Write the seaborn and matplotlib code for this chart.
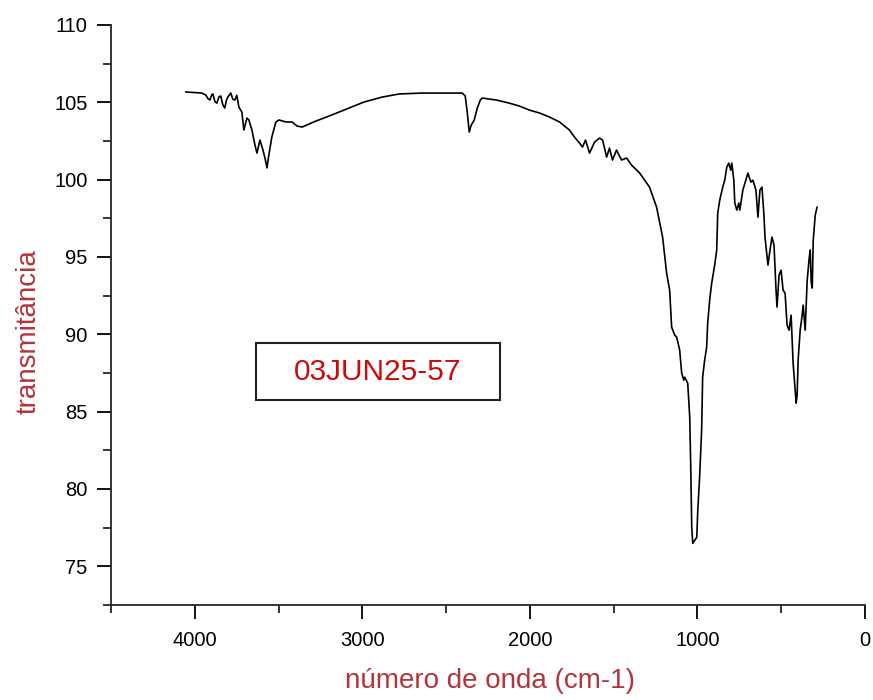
import matplotlib
matplotlib.use("Agg")
import matplotlib.pyplot as plt
import seaborn as sns
import pandas as pd
from matplotlib.ticker import MultipleLocator
from matplotlib.patches import Rectangle

wavenumber = [4054, 3958, 3934, 3922, 3910, 3898, 3892, 3880, 3868, 3856, 3845, 3833, 3821, 3812,
              3803, 3785, 3773, 3761, 3749, 3737, 3719, 3707,
              3689, 3677, 3659, 3641, 3629, 3611, 3593, 3581, 3569, 3558, 3540, 3516, 3498, 3456,
              3420, 3390, 3360, 3318, 3277, 3199, 3079, 2990, 2882, 2780, 2643, 2511, 2404, 2386,
              2374, 2362, 2350, 2332, 2314, 2296, 2284, 2242, 2200, 2123, 2063, 2003, 1943, 1883,
              1823, 1764, 1734, 1704, 1686, 1668, 1644, 1614, 1584, 1566, 1542, 1525, 1507, 1483,
              1453, 1423, 1393, 1345, 1315, 1286, 1244, 1226, 1208, 1184, 1166, 1154, 1136, 1124,
              1106, 1094, 1082, 1076, 1058, 1046, 1040, 1034, 1028, 1016, 1004, 998, 987, 975,
              969, 957, 945, 939, 927, 915, 897, 885, 879, 867, 849, 837, 825, 813, 801, 795,
              783, 777, 765, 753, 747, 729, 711, 699, 681, 669, 651, 639, 627, 615, 603, 597,
              579, 567, 555, 543, 531, 525, 513, 501, 489, 477, 465, 453, 441, 429, 417, 411,
              405, 399, 387, 375, 369, 357, 345, 333, 327, 321, 315, 309, 297, 286]
transmittance = [105.67, 105.60, 105.47, 105.25, 105.15, 105.50, 105.54, 105.05, 104.95, 105.35,
                 105.41, 104.85, 104.63, 105.10, 105.34, 105.60, 105.20, 105.15, 105.45, 104.70,
                 104.37, 103.21, 103.98, 103.86, 103.21, 102.24, 101.72, 102.56,
                 101.91, 101.40, 100.76, 101.59, 102.76, 103.73, 103.86, 103.73, 103.73, 103.47,
                 103.40, 103.60, 103.79, 104.11, 104.63, 105.02, 105.34, 105.54, 105.60, 105.60,
                 105.60, 105.41, 104.37, 103.08, 103.53, 103.86, 104.63, 105.15, 105.28, 105.21,
                 105.15, 104.95, 104.76, 104.50, 104.31, 104.05, 103.73, 103.21, 102.76, 102.37,
                 102.11, 102.56, 101.72, 102.43, 102.69, 102.56, 101.46, 102.04, 101.27, 101.91,
                 101.27, 101.40, 100.94, 100.43, 99.97, 99.52, 98.23, 97.26, 96.29, 93.96,
                 92.86, 90.47, 89.95, 89.82, 88.98, 87.49, 87.04, 87.23, 86.84, 84.64,
                 81.41, 77.53, 76.49, 76.69, 76.88, 78.63, 80.76, 83.80, 87.23, 88.33,
                 89.17, 90.72, 92.21, 93.31, 94.48, 95.45, 97.84, 98.68, 99.52, 99.97,
                 100.81, 101.07, 100.62, 101.07, 99.97, 98.49, 98.03, 98.49, 98.03, 99.33,
                 99.97, 100.43, 99.84, 99.97, 99.33, 97.58, 99.33, 99.52, 97.71, 96.29,
                 94.48, 95.45, 96.29, 95.77, 92.86, 91.76, 93.83, 94.15, 92.86, 92.66,
                 90.59, 90.27, 91.24, 88.14, 86.39, 85.55, 86.07, 88.33, 90.27, 91.24,
                 91.89, 90.27, 93.50, 94.93, 95.45, 93.38, 92.99, 96.09, 97.71, 98.23]

sample_label = "03JUN25-57"
x_title = "número de onda (cm-1)"
y_title = "transmitância"

df = pd.DataFrame({"wn": wavenumber, "T": transmittance})

sns.set_style("ticks")
plt.rcParams["font.family"] = ["Liberation Sans", "DejaVu Sans"]

fig = plt.figure(figsize=(8.73, 7.0), dpi=100)
ax = fig.add_axes([111/873, 1-605/700, (865-111)/873, (605-25)/700])

sns.lineplot(data=df, x="wn", y="T", sort=False, color="black", linewidth=1.2, ax=ax,
             estimator=None)

ax.set_xlim(4500, 0)
ax.set_ylim(72.5, 110)
ax.xaxis.set_major_locator(MultipleLocator(1000))
ax.xaxis.set_minor_locator(MultipleLocator(500))
ax.yaxis.set_major_locator(MultipleLocator(5))
ax.yaxis.set_minor_locator(MultipleLocator(2.5))

for s in ["top", "right"]:
    ax.spines[s].set_visible(False)
for s in ["left", "bottom"]:
    ax.spines[s].set_linewidth(1.3)

ax.tick_params(which="major", direction="out", length=10, width=1.3, labelsize=14.5,
               colors="black")
ax.tick_params(which="minor", direction="out", length=6, width=1.3)
ax.tick_params(axis="y", pad=7)
ax.tick_params(axis="x", pad=9)

label_color = "#b5333a"
ax.set_xlabel(x_title, fontsize=20, color=label_color)
ax.set_ylabel(y_title, fontsize=20, color=label_color)
ax.xaxis.label.set_va("center")
ax.yaxis.label.set_va("center")
ax.xaxis.set_label_coords((490-111)/754, (605-681)/580)
ax.yaxis.set_label_coords((29-111)/754, (605-332)/580)

ax.add_patch(Rectangle(((256-111)/754, (605-400)/580), (500-256)/754, (400-343)/580,
                       transform=ax.transAxes, fill=False, edgecolor="#222222", linewidth=1.5))
ax.text((378-111)/754, (605-372)/580, sample_label, transform=ax.transAxes,
        ha="center", va="center", fontsize=21.5, color="#cc0a0a")

fig.savefig("out.png", dpi=100)
